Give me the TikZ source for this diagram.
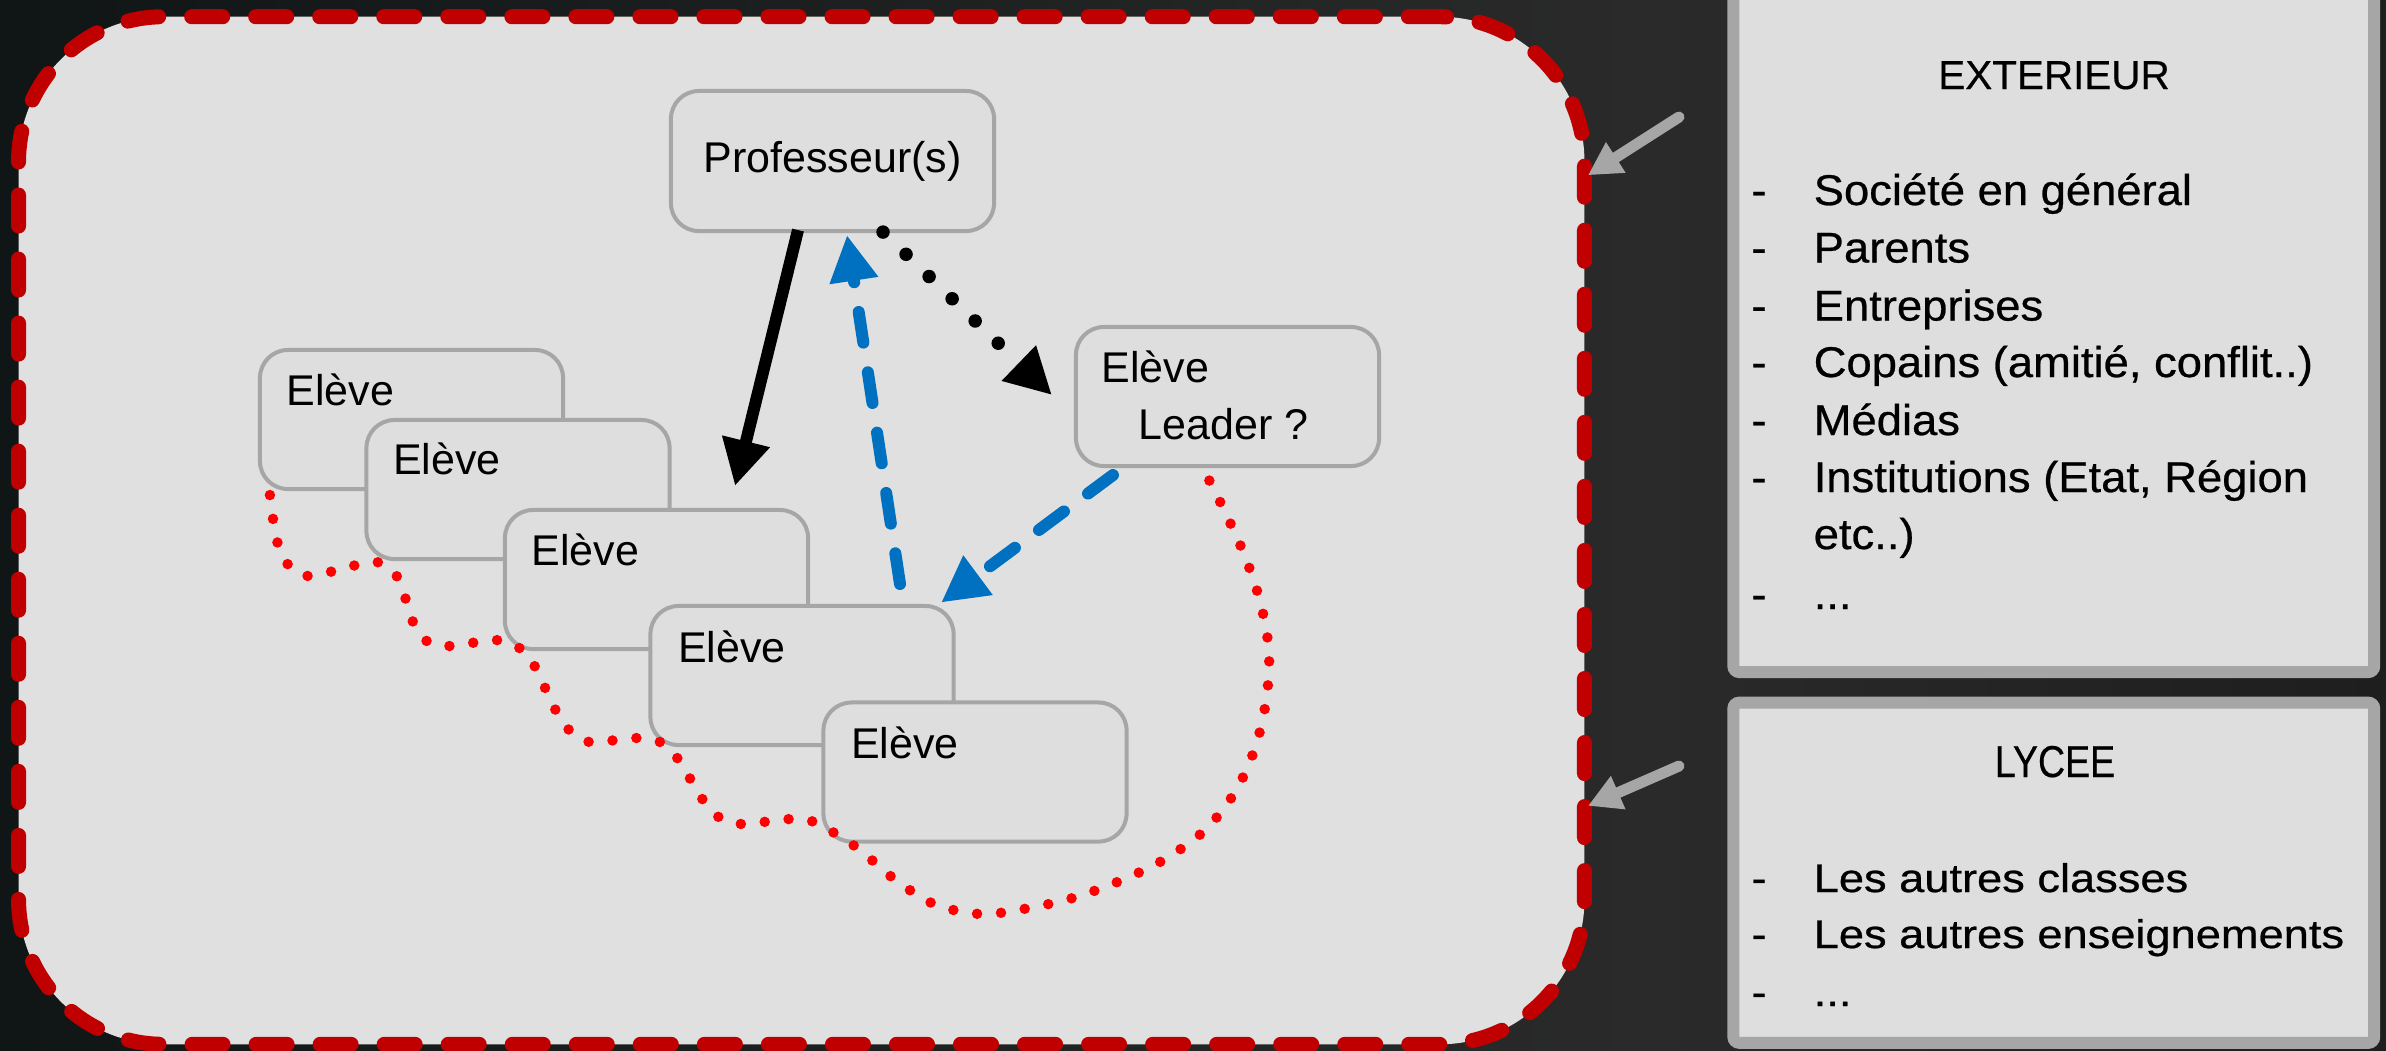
\documentclass[tikz,border=0pt]{standalone}
\usepackage{fontspec}
\setmainfont{Liberation Sans}
\newfontfamily\extfont[FakeStretch=1.055,FakeBold=0.6]{Liberation Sans}
\newfontfamily\exttfont[FakeBold=0.4]{Liberation Sans}
\newfontfamily\lycfont[FakeStretch=1.13,FakeBold=0.6]{Liberation Sans}
\newfontfamily\lyctfont[FakeStretch=0.84,FakeBold=0.4]{Liberation Sans}
\usetikzlibrary{arrows.meta,calc}
\definecolor{framered}{HTML}{C00000}
\definecolor{framefill}{HTML}{E0E0E0}
\definecolor{boxfill}{HTML}{DEDEDE}
\definecolor{boxgray}{HTML}{A6A6A6}
\definecolor{arrblue}{HTML}{0070C0}
\definecolor{dotred}{HTML}{FF0000}
\definecolor{bgl}{HTML}{101515}
\definecolor{bgm}{HTML}{2A2A2A}
\definecolor{bgr}{HTML}{1E1E1E}
\newcommand\myleftfont{\fontsize{12.23pt}{14pt}\selectfont}
\newcommand\myextfont{\extfont\fontsize{12.23pt}{14pt}\selectfont}
\newcommand\myexttitle{\exttfont\fontsize{11.5pt}{14pt}\selectfont}
\newcommand\mylycfont{\lycfont\fontsize{11.38pt}{14pt}\selectfont}
\newcommand\mylyctitle{\lyctfont\fontsize{12.7pt}{14pt}\selectfont}
\begin{document}
\begin{tikzpicture}[x=0.01cm,y=-0.01cm,
  framebox/.style={draw=framered, fill=framefill, line width=0.15cm,
    rounded corners=1.45cm, dash pattern=on 0.31cm off 0.33cm, line cap=round,
    minimum width=15.65cm, minimum height=10.27cm, inner sep=0pt},
  elbox/.style={draw=boxgray, fill=boxfill, line width=0.04cm, rounded corners=0.28cm,
    minimum width=3.03cm, minimum height=1.39cm, inner sep=0pt},
  lbl/.style={anchor=base west, inner sep=0pt, font=\myleftfont},
  sidebox/.style={draw=boxgray, fill=boxfill, line width=0.12cm, rounded corners=0.06cm,
    minimum width=6.405cm, inner sep=0pt},
  exttxt/.style={anchor=base west, inner sep=0pt, font=\myextfont},
  extdash/.style={anchor=base, inner sep=0pt, font=\myextfont},
  lyctxt/.style={anchor=base west, inner sep=0pt, font=\mylycfont},
  lycdash/.style={anchor=base, inner sep=0pt, font=\mylycfont},
  blkarrow/.style={draw=black, line width=0.12cm, -{Triangle[length=0.46cm,width=0.46cm]}},
  bluearrow/.style={draw=arrblue, line width=0.12cm, line cap=round,
    dash pattern=on 0.31cm off 0.30cm, -{Triangle[length=0.46cm,width=0.46cm]}},
  dotarrow/.style={draw=black, line width=0.135cm, line cap=round,
    dash pattern=on 0pt off 0.32cm, -{Triangle[length=0.46cm,width=0.46cm]}},
  reddots/.style={draw=dotred, line width=0.105cm, line cap=round,
    dash pattern=on 0pt off 0.24cm},
  grayarrow/.style={draw=boxgray, line width=0.11cm, line cap=round,
    -{Triangle[length=0.33cm,width=0.34cm]}}
]
\useasboundingbox (0,0) rectangle (2386,1050);
\clip (0,0) rectangle (2386,1050);
% background
\shade[left color=bgl, right color=bgm] (0,0) rectangle (1650,1050);
\shade[left color=bgm, right color=bgr] (1650,0) rectangle (2386,1050);

% main frame
\node[framebox] (frame) at (801.5,530.5) {};

% boxes
\node[elbox, minimum width=3.23cm, minimum height=1.40cm, font=\myleftfont] (prof) at (832.5,161) {Professeur(s)};
\node[elbox] (e1) at (411.5,419.5) {};
\node[lbl] (t1) at ($(e1.north west)+(28,58)$) {Elève};
\node[elbox] (e2) at (518,489.5) {};
\node[lbl] (t2) at ($(e2.north west)+(28,57)$) {Elève};
\node[elbox] (e3) at (656.5,579.5) {};
\node[lbl] (t3) at ($(e3.north west)+(28,58)$) {Elève};
\node[elbox] (e4) at (802,675.5) {};
\node[lbl] (t4) at ($(e4.north west)+(29,59)$) {Elève};
\node[elbox] (e5) at (975,772) {};
\node[lbl] (t5) at ($(e5.north west)+(29,58)$) {Elève};
\node[elbox] (lead) at (1227.5,396.5) {};
\node[lbl] (tl1) at ($(lead.north west)+(27,58)$) {Elève};
\node[lbl] (tl2) at ($(lead.north west)+(64,115)$) {Leader ?};

% arrows
\draw[blkarrow] ($(prof.south)+(-34.5,-3)$) -- ($(e3.north)+(78.5,-22)$);
\draw[bluearrow] ($(e4.north)+(98,-20)$) -- ($(prof.south)+(14.5,2)$);
\draw[bluearrow] ($(lead.south west)+(39,7)$) -- ($(e4.north east)+(-14.5,-1.4)$);
\draw[dotarrow] ($(prof.south)+(50.5,-1)$) -- ($(lead.west)+(-22,-1.5)$);

% red dotted curve
\coordinate (rs) at ($(e1.south west)+(12,4)$);
\coordinate (re) at ($(lead.south)+(-22.5,4)$);
\draw[reddots] plot[smooth, tension=0.55] coordinates {
 (rs) (277,541) (290,567) (310,576) (352,566) (377,562) (396,575) (406,600)
 (413,622) (428,642) (450,646) (495,640) (518,647) (534,665) (555,709)
 (570,731) (590,742) (636,738) (660,742) (678,759) (703,800) (720,818)
 (742,824) (790,819) (814,822) (856,847) (893,878) (934,904) (981,914)
 (1029,908) (1076,897) (1122,880) (1165,859) (1205,830) (1235,792)
 (1255,748) (1266,701) (1269,653) (1261,605) (1246,559) (1226,514) (re)};

% side boxes
\node[sidebox, minimum height=7.02cm] (ext) at (2053.75,320.85) {};
\node[sidebox, minimum height=3.40cm] (lyc) at (2053.75,872.7) {};

% gray arrows
\coordinate (g1s) at (1679,117);
\coordinate (g2s) at (1679,766);
\draw[grayarrow] (g1s) -- ($(frame.north east)+(-4,166)$);
\draw[grayarrow] (g2s) -- ($(frame.south east)+(-4,-246)$);

% EXTERIEUR text
\node[anchor=base, inner sep=0pt, font=\myexttitle] (extt) at (2054,89) {EXTERIEUR};
\node[extdash] (xd1) at (1759,205) {-};
\node[exttxt] (x1) at (1813,205) {Société en général};
\node[extdash] (xd2) at (1759,262.5) {-};
\node[exttxt] (x2) at (1813,262.5) {Parents};
\node[extdash] (xd3) at (1759,320.5) {-};
\node[exttxt] (x3) at (1813,320.5) {Entreprises};
\node[extdash] (xd4) at (1759,377) {-};
\node[exttxt] (x4) at (1813,377) {Copains (amitié, conflit..)};
\node[extdash] (xd5) at (1759,435) {-};
\node[exttxt] (x5) at (1813,435) {Médias};
\node[extdash] (xd6) at (1759,492) {-};
\node[exttxt] (x6) at (1813,492) {Institutions (Etat, Région};
\node[exttxt] (x6b) at (1813,549) {etc..)};
\node[extdash] (xd7) at (1759,609) {-};
\node[exttxt] (x7) at (1813,609) {...};

% LYCEE text
\node[anchor=base, inner sep=0pt, font=\mylyctitle] (lyct) at (2055,777) {LYCEE};
\node[lycdash] (ld1) at (1759,892) {-};
\node[lyctxt] (l1) at (1813,892) {Les autres classes};
\node[lycdash] (ld2) at (1759,948) {-};
\node[lyctxt] (l2) at (1813,948) {Les autres enseignements};
\node[lycdash] (ld3) at (1759,1006) {-};
\node[lyctxt] (l3) at (1813,1006) {...};
\end{tikzpicture}
\end{document}
